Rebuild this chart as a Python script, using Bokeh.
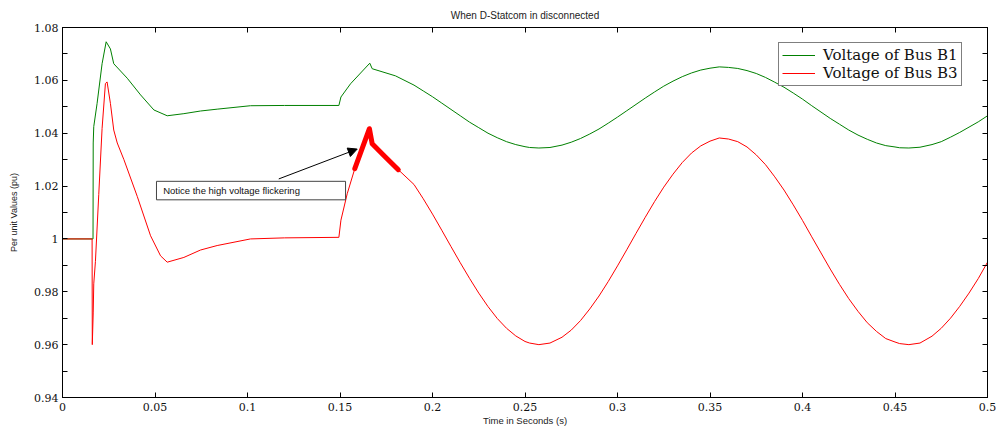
from bokeh.plotting import figure
from bokeh.models import (Range1d, LinearAxis, FixedTicker, Legend, LegendItem,
                          Arrow, NormalHead, BoxAnnotation, Label, NumeralTickFormatter)
from bokeh.embed import file_html
from bokeh.resources import INLINE

# ---------------- data ----------------
b1_time = [0.0, 0.0165, 0.0166, 0.0169, 0.0187, 0.0214, 0.0236, 0.0259, 0.0277, 0.035,
           0.0422, 0.0494, 0.0566, 0.0656, 0.0746, 0.0836, 0.1016, 0.12, 0.1494, 0.1505,
           0.1557, 0.1661, 0.1674, 0.18, 0.19, 0.195, 0.20, 0.205, 0.21, 0.215,
           0.22, 0.225, 0.23, 0.235, 0.24, 0.245, 0.25, 0.2525, 0.2575, 0.2635,
           0.27, 0.275, 0.28, 0.285, 0.29, 0.295, 0.30, 0.305, 0.31, 0.315,
           0.32, 0.325, 0.33, 0.335, 0.34, 0.345, 0.35, 0.355, 0.36, 0.365,
           0.37, 0.375, 0.38, 0.385, 0.39, 0.395, 0.40, 0.405, 0.41, 0.415,
           0.42, 0.425, 0.43, 0.435, 0.44, 0.445, 0.45, 0.4525, 0.4575, 0.4635,
           0.47, 0.475, 0.48, 0.485, 0.49, 0.495, 0.50]
b1_volt = [1.0, 1.0, 1.0363, 1.0425, 1.0513, 1.0663, 1.0746, 1.0719, 1.0663, 1.0608,
           1.0545, 1.0488, 1.0466, 1.0474, 1.0484, 1.0491, 1.0504, 1.0505, 1.0505, 1.0537,
           1.0587, 1.0665, 1.0644, 1.0617, 1.0582, 1.0560, 1.0538, 1.0514, 1.0490, 1.0466,
           1.0442, 1.0421, 1.0400, 1.0383, 1.0368, 1.0357, 1.0349, 1.0346, 1.0344, 1.0346,
           1.0355, 1.0366, 1.0380, 1.0397, 1.0416, 1.0438, 1.0461, 1.0485, 1.0509, 1.0533,
           1.0556, 1.0578, 1.0597, 1.0614, 1.0628, 1.0639, 1.0646, 1.0651, 1.0649, 1.0645,
           1.0637, 1.0626, 1.0611, 1.0593, 1.0574, 1.0552, 1.0529, 1.0504, 1.0480, 1.0456,
           1.0434, 1.0412, 1.0393, 1.0377, 1.0363, 1.0353, 1.0348, 1.0345, 1.0344, 1.0347,
           1.0357, 1.0368, 1.0385, 1.0403, 1.0423, 1.0443, 1.0466]

b3_time = [0.0, 0.0160, 0.0161, 0.0166, 0.0169, 0.0178, 0.0196, 0.0214, 0.0232, 0.0241,
           0.0259, 0.0277, 0.0296, 0.0332, 0.0404, 0.0476, 0.053, 0.0566, 0.0656, 0.0746,
           0.0836, 0.1016, 0.12, 0.1494, 0.1505, 0.1539, 0.158, 0.1659, 0.1674, 0.1737,
           0.1815, 0.19, 0.195, 0.20, 0.205, 0.21, 0.215, 0.22, 0.225, 0.23,
           0.235, 0.24, 0.245, 0.25, 0.2525, 0.2575, 0.2635, 0.27, 0.275, 0.28,
           0.285, 0.29, 0.295, 0.30, 0.305, 0.31, 0.315, 0.32, 0.325, 0.33,
           0.335, 0.34, 0.345, 0.35, 0.355, 0.36, 0.365, 0.37, 0.375, 0.38,
           0.385, 0.39, 0.395, 0.40, 0.405, 0.41, 0.415, 0.42, 0.425, 0.43,
           0.435, 0.44, 0.445, 0.45, 0.4525, 0.4575, 0.4635, 0.47, 0.475, 0.48,
           0.485, 0.49, 0.495, 0.50]
b3_volt = [1.0, 1.0, 0.960, 0.972, 0.983, 0.9915, 1.0168, 1.0418, 1.0588, 1.0594,
           1.0513, 1.0412, 1.0363, 1.0300, 1.0161, 1.0012, 0.9936, 0.9912, 0.9930, 0.9958,
           0.9975, 1.0000, 1.0004, 1.0006, 1.0071, 1.0171, 1.0266, 1.0417, 1.0360, 1.0316,
           1.0262, 1.0206, 1.0152, 1.0094, 1.0033, 0.9971, 0.9910, 0.9851, 0.9795, 0.9744,
           0.9699, 0.9662, 0.9633, 0.9612, 0.9606, 0.9600, 0.9606, 0.9628, 0.9655, 0.9691,
           0.9735, 0.9784, 0.9839, 0.9898, 0.9959, 1.0021, 1.0082, 1.0141, 1.0196, 1.0245,
           1.0289, 1.0325, 1.0352, 1.0370, 1.0382, 1.0378, 1.0368, 1.0348, 1.0318, 1.0281,
           1.0235, 1.0185, 1.0129, 1.0070, 1.0008, 0.9947, 0.9886, 0.9828, 0.9774, 0.9726,
           0.9683, 0.9650, 0.9623, 0.9610, 0.9604, 0.9600, 0.9606, 0.9632, 0.9662, 0.9700,
           0.9745, 0.9795, 0.9850, 0.9912]

# highlighted "flicker" part of the Bus B3 voltage
flicker_time = [0.158, 0.1659, 0.1674, 0.1737, 0.1815]
flicker_volt = [1.0266, 1.0417, 1.0360, 1.0316, 1.0262]

x_ticks = [0.0, 0.05, 0.1, 0.15, 0.2, 0.25, 0.3, 0.35, 0.4, 0.45, 0.5]
x_tick_labels = ["0", "0.05", "0.1", "0.15", "0.2", "0.25", "0.3", "0.35", "0.4", "0.45", "0.5"]
y_ticks = [0.94, 0.96, 0.98, 1.0, 1.02, 1.04, 1.06, 1.08]
y_tick_labels = ["0.94", "0.96", "0.98", "1", "1.02", "1.04", "1.06", "1.08"]
y_minor_ticks = [0.95, 0.97, 0.99, 1.01, 1.03, 1.05, 1.07]

series_names = ["Voltage of Bus B1", "Voltage of Bus B3"]
title_text = "When D-Statcom in disconnected"
x_label = "Time in Seconds (s)"
y_label = "Per unit Values (pu)"
note_text = "Notice the high voltage flickering"

GREEN = "#008000"
RED = "#ff0000"
SERIF = "DejaVu Serif"
SANS = "Liberation Sans"

# ---------------- figure ----------------
p = figure(frame_width=925, frame_height=370,
           x_range=Range1d(0, 0.5), y_range=Range1d(0.94, 1.08),
           x_axis_type=None, y_axis_type=None,
           output_backend="svg", toolbar_location=None,
           min_border_left=62, min_border_right=12, min_border_top=27, min_border_bottom=29)
p.background_fill_color = "white"
p.border_fill_color = "white"
p.outline_line_color = "black"
p.outline_line_width = 1
p.xgrid.visible = False
p.ygrid.visible = False

p.title.text = title_text
p.title.align = "center"
p.title.text_font = SANS
p.title.text_font_size = "10px"
p.title.text_font_style = "normal"
p.title.text_color = "#222222"
p.title.standoff = 13


def style_axis(ax, show_labels, minor):
    ax.axis_line_color = "black"
    ax.axis_line_width = 1
    ax.major_tick_in = 5
    ax.major_tick_out = 0
    ax.major_tick_line_color = "black"
    ax.minor_tick_in = 5 if minor else 0
    ax.minor_tick_out = 0
    ax.minor_tick_line_color = "black"
    if show_labels:
        ax.major_label_text_font = SERIF
        ax.major_label_text_font_size = "11px"
        ax.major_label_text_color = "#111111"
    else:
        ax.major_label_text_font_size = "0px"
        ax.major_label_text_color = None
        ax.major_label_standoff = 0


xfmt = NumeralTickFormatter(format="0.[00]")
xb = LinearAxis(ticker=FixedTicker(ticks=x_ticks, minor_ticks=[]), formatter=xfmt,
                major_label_overrides=dict(zip(x_ticks, x_tick_labels)))
style_axis(xb, True, False)
xb.major_label_standoff = 5
xb.axis_label = x_label
xb.axis_label_text_font = SANS
xb.axis_label_text_font_size = "9.5px"
xb.axis_label_text_font_style = "normal"
xb.axis_label_text_color = "#222222"
xb.axis_label_standoff = 1
p.add_layout(xb, "below")

xt = LinearAxis(ticker=FixedTicker(ticks=x_ticks, minor_ticks=[]))
style_axis(xt, False, False)
p.add_layout(xt, "above")

yfmt = NumeralTickFormatter(format="0.[00]")
yl = LinearAxis(ticker=FixedTicker(ticks=y_ticks, minor_ticks=y_minor_ticks), formatter=yfmt,
                major_label_overrides=dict(zip(y_ticks, y_tick_labels)))
style_axis(yl, True, True)
yl.major_label_standoff = 4
yl.axis_label = y_label
yl.axis_label_text_font = SANS
yl.axis_label_text_font_size = "9px"
yl.axis_label_text_font_style = "normal"
yl.axis_label_text_color = "#222222"
yl.axis_label_standoff = 12
p.add_layout(yl, "left")

yr = LinearAxis(ticker=FixedTicker(ticks=y_ticks, minor_ticks=y_minor_ticks))
style_axis(yr, False, True)
p.add_layout(yr, "right")

# ---------------- lines ----------------
g = p.line(b1_time, b1_volt, line_color=GREEN, line_width=1)
r = p.line(b3_time, b3_volt, line_color=RED, line_width=1)
p.line(flicker_time, flicker_volt, line_color=RED, line_width=5, line_cap="round", line_join="round")

# ---------------- annotation ----------------
p.add_layout(BoxAnnotation(left=0.0508, right=0.153, top=1.0218, bottom=1.0148,
                           fill_color="white", fill_alpha=1.0,
                           line_color="#444444", line_width=1, line_alpha=1.0))
p.add_layout(Label(x=0.0544, y=1.0183, text=note_text, text_baseline="middle",
                   text_font=SANS, text_font_size="9.5px", text_color="#111111"))
p.add_layout(Arrow(end=NormalHead(size=9, fill_color="black", line_color="black"),
                   x_start=0.1169, y_start=1.0227, x_end=0.1593, y_end=1.0340,
                   line_color="black", line_width=1))

# ---------------- legend ----------------
legend = Legend(items=[LegendItem(label=series_names[0], renderers=[g]),
                       LegendItem(label=series_names[1], renderers=[r])],
                location=(716, 311), margin=0, padding=3, spacing=0,
                glyph_width=33, glyph_height=16, label_height=16, label_standoff=8,
                label_text_font=SERIF, label_text_font_size="15px", label_text_color="#111111",
                border_line_color="black", border_line_width=1,
                background_fill_color="white", background_fill_alpha=1.0)
p.add_layout(legend, "center")

open("out.html", "w").write(file_html(p, INLINE))
